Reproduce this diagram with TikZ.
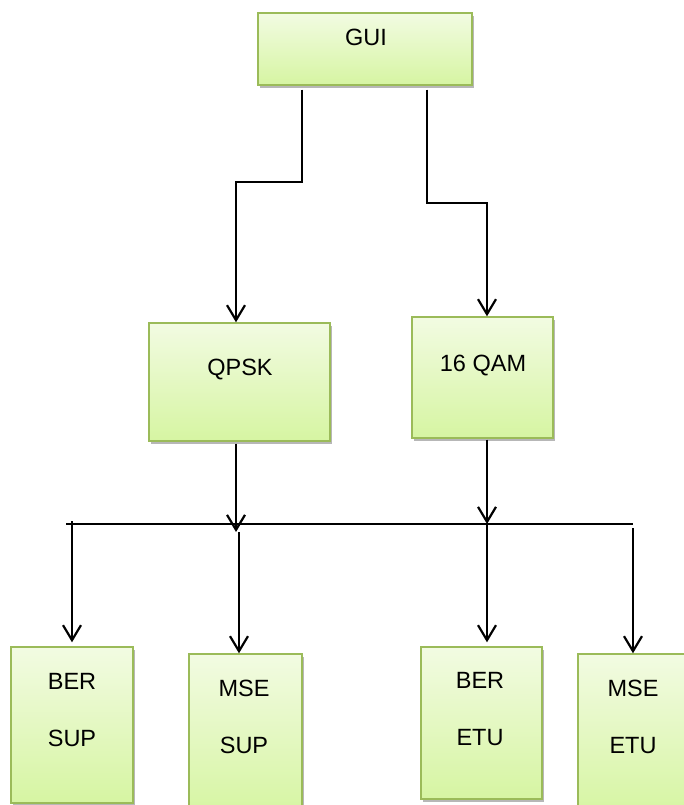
\documentclass[tikz,border=0pt]{standalone}
\usepackage{fontspec}
\setmainfont{Liberation Sans}
\usetikzlibrary{arrows.meta,shadows}
\definecolor{boxtop}{HTML}{F2FBE2}
\definecolor{boxbot}{HTML}{D6F5A2}
\definecolor{boxline}{HTML}{9BBB59}
\begin{document}
\begin{tikzpicture}[x=1pt,y=-1pt,
  box/.style={rectangle, draw=boxline, line width=1.4pt, top color=boxtop, bottom color=boxbot,
    drop shadow={shadow xshift=1.5pt, shadow yshift=-3pt, opacity=0.4, fill=black!70}, inner sep=0pt},
  lbl/.style={font=\fontsize{23.5}{57}\selectfont, inner sep=0pt, text=black},
  conn/.style={line width=2.2pt, draw=black},
  arr/.style={conn, -{Straight Barb[length=15pt,width=18pt]}}
]
\useasboundingbox (0,0) rectangle (683,805);
% boxes
\node[box, minimum width=214pt, minimum height=72pt]  (gui)  at (365,49) {};
\node[box, minimum width=181pt, minimum height=118pt] (qpsk) at (239.5,382) {};
\node[box, minimum width=141pt, minimum height=121pt] (qam)  at (482.5,377.5) {};
\node[box, minimum width=122pt, minimum height=156pt] (bs)   at (72,725) {};
\node[box, minimum width=113pt, minimum height=161pt] (ms)   at (245.5,734.5) {};
\node[box, minimum width=121pt, minimum height=152pt] (be)   at (481.5,723) {};
\node[box, minimum width=110pt, minimum height=161pt] (me)   at (633,734.5) {};
% labels
\node[lbl, anchor=base] (tgui)  at (366,46)  {GUI};
\node[lbl, anchor=base] (tqpsk) at (240,375) {QPSK};
\node[lbl, anchor=base] (tqam)  at (483,371) {16 QAM};
\node[lbl, anchor=north, align=center] (tbs) at (72,673)  {BER\\SUP};
\node[lbl, anchor=north, align=center] (tms) at (244,680) {MSE\\SUP};
\node[lbl, anchor=north, align=center] (tbe) at (480,672) {BER\\ETU};
\node[lbl, anchor=north, align=center] (tme) at (633,680) {MSE\\ETU};
% connector coordinates
\coordinate (gL) at (302,0);
\coordinate (bL) at (236,182);
\coordinate (gR) at (427,0);
\coordinate (bR) at (487,203);
\coordinate (tQ) at (236,532);
\coordinate (tA) at (487,524);
\coordinate (barL) at (66,524);
\coordinate (barR) at (633,524);
\coordinate (d1) at (72,521);
\coordinate (d2) at (239,532);
\coordinate (d3) at (487,524);
\coordinate (d4) at (633,528);
% connectors
\draw[arr, shorten <=4pt] (gL |- gui.south) |- (bL) -- (bL |- qpsk.north);
\draw[arr, shorten <=4pt] (gR |- gui.south) |- (bR) -- (bR |- qam.north);
\draw[arr, shorten <=2pt] (tQ |- qpsk.south) -- (tQ);
\draw[arr, shorten <=1pt] (tA |- qam.south) -- (tA);
\draw[conn] (barL) -- (barR);
\draw[arr, shorten >=4pt] (d1) -- (d1 |- bs.north);
\draw[arr] (d2) -- (d2 |- ms.north);
\draw[arr, shorten >=4pt] (d3) -- (d3 |- be.north);
\draw[arr] (d4) -- (d4 |- me.north);
\end{tikzpicture}
\end{document}
